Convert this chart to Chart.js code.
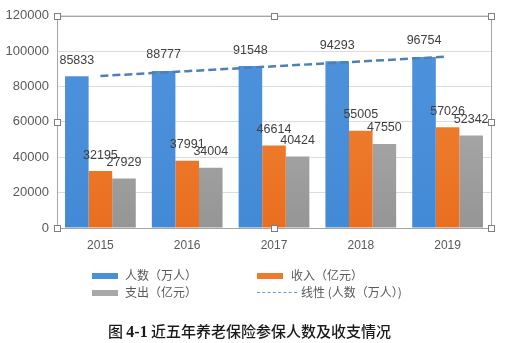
<!DOCTYPE html>
<html>
<head>
<meta charset="utf-8">
<script src="https://cdn.jsdelivr.net/npm/chart.js@4"></script>
<style>
  html,body{margin:0;padding:0;background:#fff;}
  #wrap{position:relative;width:521px;height:343px;overflow:hidden;}
  #c{position:absolute;left:0;top:0;}
  .lg{position:absolute;font-family:"Noto Sans CJK SC",sans-serif;font-size:12px;color:#595959;line-height:14px;white-space:nowrap;}
  .sw{position:absolute;height:6px;width:26px;}
  .dash{position:absolute;width:40px;height:0;border-top:1.5px dashed #6a9bd3;}
  #cap{position:absolute;left:0;width:499px;top:320px;text-align:center;font-family:"Noto Sans CJK SC",sans-serif;font-size:15px;font-weight:500;color:#1a1a1a;white-space:nowrap;}
  #cap b{font-family:"Liberation Serif",serif;font-weight:bold;font-size:16px;}
</style>
</head>
<body>
<div id="wrap">
  <canvas id="c" width="521" height="343"></canvas>
  <div id="legend"></div>
  <div id="cap">图 <b>4-1</b> 近五年养老保险参保人数及收支情况</div>
</div>
<script>
const years = ['2015', '2016', '2017', '2018', '2019'];
const people = [85833, 88777, 91548, 94293, 96754];   // 人数（万人）
const income = [32195, 37991, 46614, 55005, 57026];   // 收入（亿元）
const expense = [27929, 34004, 40424, 47550, 52342];  // 支出（亿元）
const seriesNames = ['人数（万人）', '收入（亿元）', '支出（亿元）', '线性 (人数（万人）)'];
const yTicks = [0, 20000, 40000, 60000, 80000, 100000, 120000];

// Excel-style linear trendline (least squares) of the people series
function linearTrend(vals) {
  const n = vals.length;
  const mx = (n - 1) / 2;
  const my = vals.reduce((a, b) => a + b, 0) / n;
  let sxy = 0, sxx = 0;
  vals.forEach((v, i) => { sxy += (i - mx) * (v - my); sxx += (i - mx) * (i - mx); });
  const k = sxy / sxx;
  return vals.map((v, i) => my + k * (i - mx));
}
const trend = linearTrend(people);

function grad(c1, c2) {
  return (ctx) => {
    const ch = ctx.chart;
    const a = ch.chartArea;
    if (!a) return c1;
    const g = ch.ctx.createLinearGradient(0, a.top, 0, a.bottom);
    g.addColorStop(0, c1);
    g.addColorStop(1, c2);
    return g;
  };
}

const swatch = ['#4a8fd9', '#ee7a2c', '#a8a8a8'];

const labelPlugin = {
  id: 'barLabels',
  afterDatasetsDraw(chart) {
    const ctx = chart.ctx;
    ctx.save();
    ctx.font = '12.5px "Liberation Sans", Arial, sans-serif';
    ctx.fillStyle = '#404040';
    ctx.textAlign = 'center';
    ctx.textBaseline = 'middle';
    chart.data.datasets.forEach((ds, di) => {
      const meta = chart.getDatasetMeta(di);
      if (meta.type !== 'bar') return;
      meta.data.forEach((el, i) => {
        ctx.fillText(String(ds.data[i]), el.x, el.y - 16);
      });
    });
    ctx.restore();
  }
};

const framePlugin = {
  id: 'frame',
  afterDraw(chart) {
    const a = chart.chartArea;
    const ctx = chart.ctx;
    ctx.save();
    ctx.strokeStyle = '#a6a6a6';
    ctx.lineWidth = 1;
    ctx.beginPath();
    ctx.moveTo(Math.round(a.left) + 0.5, Math.round(a.top) + 0.5);
    ctx.lineTo(Math.round(a.right) + 0.5, Math.round(a.top) + 0.5);
    ctx.lineTo(Math.round(a.right) + 0.5, Math.round(a.bottom) + 0.5);
    ctx.stroke();
    const xs = [a.left, (a.left + a.right) / 2, a.right];
    const ys = [a.top, (a.top + a.bottom) / 2, a.bottom];
    ctx.fillStyle = '#ffffff';
    ctx.strokeStyle = '#7f7f7f';
    xs.forEach((x, ix) => ys.forEach((y, iy) => {
      if (ix === 1 && iy === 1) return;
      const rx = Math.round(x) - 3 + 0.5, ry = Math.round(y) - 3 + 0.5;
      ctx.fillRect(rx, ry, 6, 6);
      ctx.strokeRect(rx, ry, 6, 6);
    }));
    ctx.restore();
  }
};

const chart = new Chart(document.getElementById('c'), {
  type: 'bar',
  data: {
    labels: years,
    datasets: [
      { label: seriesNames[0], data: people, backgroundColor: grad('#4f93dc', '#438ad6'), order: 1 },
      { label: seriesNames[1], data: income, backgroundColor: grad('#f2873a', '#e96f1f'), order: 1 },
      { label: seriesNames[2], data: expense, backgroundColor: grad('#b8b8b8', '#959595'), order: 1 },
      { label: seriesNames[3], type: 'line', data: trend, borderColor: '#4f7fb6', borderWidth: 2.5,
        borderDash: [8, 4], pointRadius: 0, fill: false, tension: 0, order: 0 }
    ]
  },
  options: {
    responsive: false,
    animation: false,
    events: [],
    layout: { padding: { left: 0, top: 12, right: 30, bottom: 85 } },
    datasets: { bar: { barPercentage: 1, categoryPercentage: 0.815 } },
    plugins: { legend: { display: false }, tooltip: { enabled: false } },
    scales: {
      x: {
        grid: { display: false, drawTicks: false },
        border: { color: '#a6a6a6' },
        ticks: { color: '#595959', padding: 10, font: { family: '"Liberation Sans", Arial, sans-serif', size: 12 } },
        afterFit(s) { s.height = 30; }
      },
      y: {
        min: 0, max: 120000,
        afterBuildTicks(s) { s.ticks = yTicks.map(v => ({ value: v })); },
        grid: { color: '#dcdcdc', drawTicks: false },
        border: { color: '#a6a6a6' },
        ticks: { color: '#595959', padding: 8, font: { family: '"Liberation Sans", Arial, sans-serif', size: 13 },
                 callback: v => String(v) },
        afterFit(s) { s.width = 57; }
      }
    }
  },
  plugins: [labelPlugin, framePlugin]
});

// HTML legend built from the chart's datasets
(function buildLegend() {
  const lg = document.getElementById('legend');
  const pos = [
    { sx: 92, tx: 125, y: 276 },
    { sx: 257, tx: 291, y: 276 },
    { sx: 92, tx: 125, y: 293 },
    { sx: 257, tx: 301, y: 293 }
  ];
  chart.data.datasets.forEach((ds, i) => {
    const p = pos[i];
    let m;
    if (ds.type === 'line') {
      m = document.createElement('div');
      m.className = 'dash';
      m.style.left = p.sx + 'px';
      m.style.top = (p.y - 1) + 'px';
    } else {
      m = document.createElement('div');
      m.className = 'sw';
      m.style.left = p.sx + 'px';
      m.style.top = (p.y - 3) + 'px';
      m.style.background = swatch[i];
    }
    lg.appendChild(m);
    const t = document.createElement('div');
    t.className = 'lg';
    t.style.left = p.tx + 'px';
    t.style.top = (p.y - 8) + 'px';
    t.textContent = ds.label;
    lg.appendChild(t);
  });
})();
</script>
</body>
</html>
